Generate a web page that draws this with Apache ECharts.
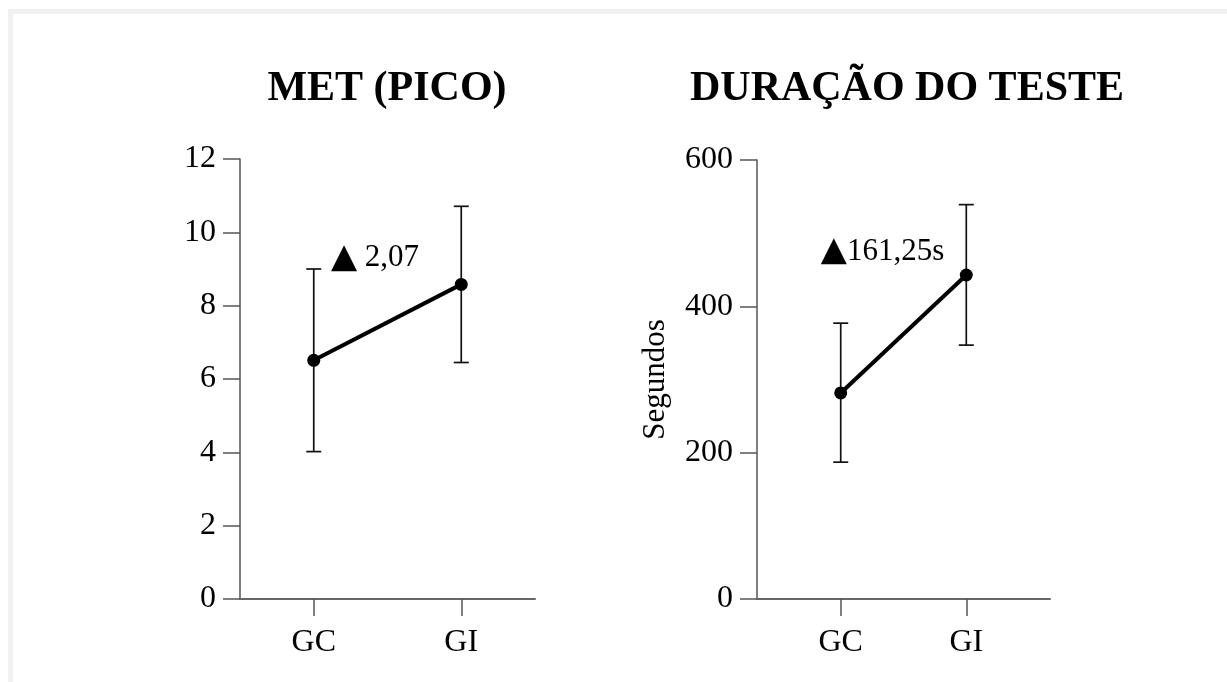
<!DOCTYPE html>
<html>
<head>
<meta charset="utf-8">
<script src="https://cdn.jsdelivr.net/npm/echarts@6/dist/echarts.min.js"></script>
<style>
html,body{margin:0;padding:0;background:#fff;}
#frame{position:absolute;left:8px;top:9px;width:1224px;height:700px;border:5px solid #f1f1f1;box-sizing:border-box;}
#chart{position:absolute;left:0;top:0;width:1227px;height:682px;}
</style>
</head>
<body>
<div id="frame"></div>
<div id="chart"></div>
<script>
// ---- data ----
const categories = ['GC', 'GI'];
const titles = ['MET (PICO)', 'DURAÇÃO DO TESTE'];
const metMean = [6.51, 8.58];
const metLow = [4.02, 6.45];
const metHigh = [9.0, 10.71];
const durMean = [281.6, 442.85];
const durLow = [187, 347];
const durHigh = [377, 539];
const metTicks = [0, 2, 4, 6, 8, 10, 12];
const durTicks = [0, 200, 400, 600];
const metNote = ['▲', ' 2,07'];
const durNote = ['▲', '161,25s'];
const durAxisName = 'Segundos';

const FONT = "'Liberation Serif', 'Times New Roman', serif";
const chart = echarts.init(document.getElementById('chart'), null, {renderer: 'canvas'});

// slot positions of the two groups on each x axis
const metSlots = [1, 3];
const durSlots = [2, 5];

function xAxisCfg(gridIndex, max, slots) {
  return {
    type: 'value', gridIndex: gridIndex, min: 0, max: max,
    splitLine: {show: false},
    axisLine: {show: true, onZero: false, lineStyle: {color: '#666', width: 2}},
    axisTick: {show: true, customValues: slots, length: 17, lineStyle: {color: '#555', width: 1.5}},
    axisLabel: {customValues: slots, margin: 28, fontFamily: FONT, fontSize: 32, color: '#000',
      formatter: v => categories[slots.indexOf(v)] || ''}
  };
}
function yAxisCfg(gridIndex, ticks, extra) {
  return Object.assign({
    type: 'value', gridIndex: gridIndex, min: ticks[0], max: ticks[ticks.length - 1],
    interval: ticks[1] - ticks[0],
    splitLine: {show: false},
    axisLine: {show: true, lineStyle: {color: '#555', width: 1.5}},
    axisTick: {show: true, length: 17, lineStyle: {color: '#555', width: 1.5}},
    axisLabel: {margin: 24, fontFamily: FONT, fontSize: 32, color: '#000'}
  }, extra || {});
}
function errRender(params, api) {
  const x = api.value(0), lo = api.value(1), hi = api.value(2);
  const t = api.coord([x, hi]), b = api.coord([x, lo]);
  const w = 7.5;
  const st = {stroke: '#111', lineWidth: 1.7};
  return {type: 'group', children: [
    {type: 'line', shape: {x1: t[0], y1: t[1], x2: b[0], y2: b[1]}, style: st},
    {type: 'line', shape: {x1: t[0] - w, y1: t[1], x2: t[0] + w, y2: t[1]}, style: st},
    {type: 'line', shape: {x1: b[0] - w, y1: b[1], x2: b[0] + w, y2: b[1]}, style: st}
  ]};
}
function noteLabel(parts) {
  return {
    show: true, position: 'inside', color: '#000', opacity: 1, textBorderWidth: 0, textBorderColor: 'transparent',
    formatter: '{t|' + parts[0] + '}{v|' + parts[1] + '}',
    rich: {
      t: {fontFamily: "'DejaVu Sans', sans-serif", fontSize: 34, color: '#000', textBorderWidth: 0},
      v: {fontFamily: FONT, fontSize: 31, color: '#000', textBorderWidth: 0}
    }
  };
}

const option = {
  animation: false,
  backgroundColor: 'transparent',
  graphic: [
    {type: 'text', x: 387, y: 89, style: {text: titles[0], font: 'bold 42px ' + FONT, fill: '#000', textAlign: 'center', textVerticalAlign: 'middle'}},
    {type: 'text', x: 907, y: 89, style: {text: titles[1], font: 'bold 42px ' + FONT, fill: '#000', textAlign: 'center', textVerticalAlign: 'middle'}}
  ],
  grid: [
    {left: 240, top: 159, width: 295, height: 440},
    {left: 757, top: 160, width: 293, height: 439}
  ],
  xAxis: [xAxisCfg(0, 4, metSlots), xAxisCfg(1, 7, durSlots)],
  yAxis: [
    yAxisCfg(0, metTicks),
    yAxisCfg(1, durTicks, {name: durAxisName, nameLocation: 'middle', nameGap: 86,
      nameTextStyle: {fontFamily: FONT, fontSize: 31, color: '#000'}})
  ],
  series: [
    {type: 'custom', xAxisIndex: 0, yAxisIndex: 0, renderItem: errRender, z: 2,
      data: categories.map((c, i) => [metSlots[i], metLow[i], metHigh[i]])},
    {type: 'line', xAxisIndex: 0, yAxisIndex: 0, z: 3,
      data: categories.map((c, i) => [metSlots[i], metMean[i]]),
      lineStyle: {color: '#000', width: 4}, itemStyle: {color: '#000'},
      symbol: 'circle', symbolSize: 13, showSymbol: true},
    {type: 'custom', xAxisIndex: 1, yAxisIndex: 1, renderItem: errRender, z: 2,
      data: categories.map((c, i) => [durSlots[i], durLow[i], durHigh[i]])},
    {type: 'line', xAxisIndex: 1, yAxisIndex: 1, z: 3,
      data: categories.map((c, i) => [durSlots[i], durMean[i]]),
      lineStyle: {color: '#000', width: 4}, itemStyle: {color: '#000'},
      symbol: 'circle', symbolSize: 13, showSymbol: true},
    {type: 'scatter', xAxisIndex: 0, yAxisIndex: 0, symbolSize: 0, z: 5,
      itemStyle: {color: '#000', opacity: 1},
      data: [[1.83, 9.3]], label: noteLabel(metNote)},
    {type: 'scatter', xAxisIndex: 1, yAxisIndex: 1, symbolSize: 0, z: 5,
      itemStyle: {color: '#000', opacity: 1},
      data: [[3.0, 475]], label: noteLabel(durNote)}
  ]
};
chart.setOption(option);
</script>
</body>
</html>
